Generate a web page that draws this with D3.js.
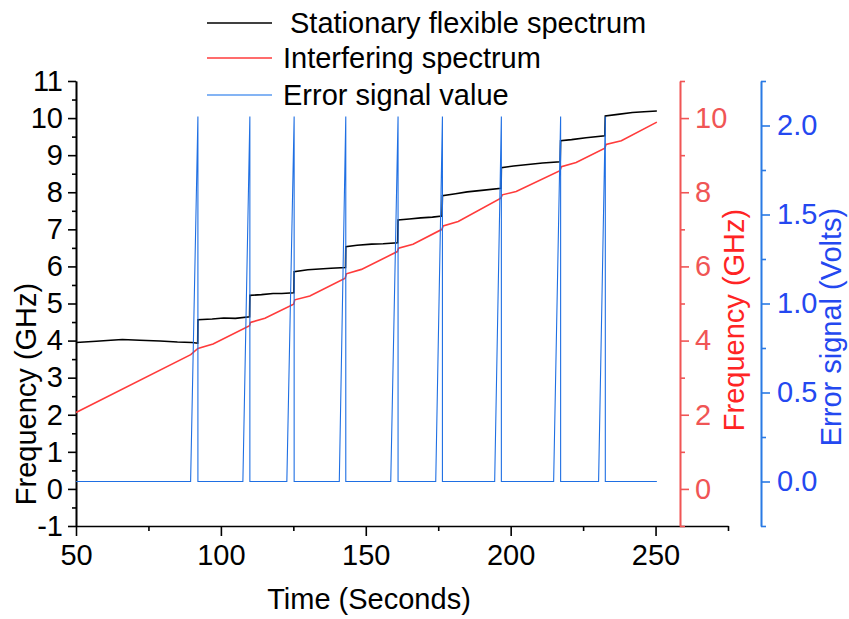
<!DOCTYPE html>
<html>
<head>
<meta charset="utf-8">
<script src="https://cdn.jsdelivr.net/npm/d3@7"></script>
<style>
  html, body { margin: 0; padding: 0; background: #fff; }
  svg { display: block; font-family: "Liberation Sans", Arial, sans-serif; }
</style>
</head>
<body>
<svg id="chart" width="849" height="619"></svg>
<script>
// Stationary flexible spectrum (left axis, GHz)
const timeFlex = [50, 57, 62, 66, 72, 79, 85, 90, 92.0,
  92.07, 97, 101, 105, 109.9,
  110.0, 114, 118, 121, 125.2,
  125.28, 130, 134, 138, 143.0,
  143.1, 147, 152, 156, 161.0,
  161.14, 165, 169, 173, 176.3,
  176.45, 181, 185, 190, 196.7,
  196.79, 201, 206, 211, 217.1,
  217.24, 221, 226, 232.5,
  232.66, 237, 242, 246, 250.45];
const freqFlex = [3.95, 3.98, 4.01, 4.03, 4.01, 3.99, 3.96, 3.95, 3.93,
  4.56, 4.58, 4.61, 4.60, 4.64,
  5.22, 5.24, 5.27, 5.27, 5.29,
  5.86, 5.91, 5.93, 5.95, 5.97,
  6.53, 6.57, 6.60, 6.61, 6.64,
  7.25, 7.28, 7.31, 7.33, 7.36,
  7.91, 7.96, 8.01, 8.05, 8.11,
  8.66, 8.71, 8.75, 8.79, 8.82,
  9.39, 9.42, 9.47, 9.52,
  10.06, 10.10, 10.15, 10.17, 10.19];

// Interfering spectrum (red axis, GHz)
const timeInterf = [50, 89.6, 92.07, 97.3, 109.9, 110.2, 115.2, 125.1, 125.5, 130.7,
  142.9, 143.3, 148.5, 160.9, 161.3, 166.3, 176.3, 176.7, 181.9, 196.6,
  197.1, 201.9, 217.0, 217.5, 222.6, 232.5, 232.9, 238.2, 250.45];
const freqInterf = [2.06, 3.62, 3.79, 3.91, 4.40, 4.49, 4.60, 4.98, 5.10, 5.20,
  5.68, 5.80, 5.92, 6.40, 6.49, 6.60, 7.00, 7.09, 7.21, 7.84,
  7.93, 8.02, 8.58, 8.69, 8.80, 9.19, 9.29, 9.39, 9.89];

// Error signal value (blue axis, Volts)
const timeErr = [50, 89.55, 92.07, 92.07, 107.59, 110.0, 110.0, 122.76, 125.28, 125.28,
  140.86, 143.10, 143.10, 158.62, 161.14, 161.14, 174.14, 176.45, 176.45,
  194.48, 196.79, 196.79, 214.83, 217.24, 217.24, 230.34, 232.66, 232.66, 250.45];
const voltErr = [0, 0, 2.05, 0, 0, 2.05, 0, 0, 2.05, 0,
  0, 2.05, 0, 0, 2.05, 0, 0, 2.05, 0,
  0, 2.05, 0, 0, 2.05, 0, 0, 2.05, 0, 0];

// Tick values
const timeTicks = [50, 100, 150, 200, 250];
const timeMinor = [75, 125, 175, 225, 275];
const freqTicks = [-1, 0, 1, 2, 3, 4, 5, 6, 7, 8, 9, 10, 11];
const freqMinor = [-0.5, 0.5, 1.5, 2.5, 3.5, 4.5, 5.5, 6.5, 7.5, 8.5, 9.5, 10.5];
const interfTicks = [0, 2, 4, 6, 8, 10];
const interfMinor = [-1, 1, 3, 5, 7, 9, 11];
const errTicks = [0, 0.5, 1.0, 1.5, 2.0];
const errMinor = [-0.25, 0.25, 0.75, 1.25, 1.75, 2.25];

const legendLabels = ["Stationary flexible spectrum", "Interfering spectrum", "Error signal value"];

const C = {
  black: "#000000",
  red: "#ff3b3b",
  redAxis: "#f05555",
  redTitle: "#ff2424",
  blue: "#1f6fe3",
  blueAxis: "#2a7ae4",
  blueText: "#2448f0",
  legendBlue: "#5b9bf0"
};
const FS = 29;

const svg = d3.select("#chart");

const x = d3.scaleLinear().domain([50, 275]).range([76, 728]);
const yL = d3.scaleLinear().domain([-1, 11]).range([526, 81]);
const yR = d3.scaleLinear().domain([-1, 11]).range([526, 81]);
const yB = d3.scaleLinear().domain([-0.25, 2.25]).range([526, 81]);

const fmtInt = d => (d < 0 ? "-" + Math.abs(d) : String(d));

function styleAxis(g, color, width) {
  g.selectAll("path.domain").attr("stroke", color).attr("stroke-width", width);
  g.selectAll(".tick line").attr("stroke", color).attr("stroke-width", width);
  g.selectAll(".tick text").attr("fill", color).attr("font-size", FS)
    .attr("font-family", '"Liberation Sans", Arial, sans-serif');
}

// Bottom axis
const gx = svg.append("g").attr("transform", "translate(0,526)");
gx.call(d3.axisBottom(x).tickValues(timeMinor).tickSize(5).tickSizeOuter(0).tickFormat(""));
gx.append("g").call(d3.axisBottom(x).tickValues(timeTicks).tickSize(10).tickSizeOuter(0).tickPadding(8).tickFormat(d3.format("d")));
styleAxis(gx, C.black, 1.6);
gx.selectAll("g > g path.domain").remove();

// Left axis
const gl = svg.append("g").attr("transform", "translate(76,0)");
gl.call(d3.axisLeft(yL).tickValues(freqMinor).tickSize(4).tickSizeOuter(0).tickFormat(""));
gl.append("g").call(d3.axisLeft(yL).tickValues(freqTicks).tickSize(8).tickSizeOuter(0).tickPadding(5).tickFormat(fmtInt));
styleAxis(gl, C.black, 1.6);

// Red right axis
const gr = svg.append("g").attr("transform", "translate(680,0)");
gr.call(d3.axisRight(yR).tickValues(interfMinor).tickSize(5).tickSizeOuter(0).tickFormat(""));
gr.append("g").call(d3.axisRight(yR).tickValues(interfTicks).tickSize(9).tickSizeOuter(0).tickPadding(6).tickFormat(fmtInt));
styleAxis(gr, C.redAxis, 1.6);

// Blue right axis
const gb = svg.append("g").attr("transform", "translate(761,0)");
gb.call(d3.axisRight(yB).tickValues(errMinor).tickSize(5).tickSizeOuter(0).tickFormat(""));
gb.append("g").call(d3.axisRight(yB).tickValues(errTicks).tickSize(9).tickSizeOuter(0).tickPadding(7).tickFormat(d3.format(".1f")));
styleAxis(gb, C.blueAxis, 1.6);
gb.selectAll(".tick text").attr("fill", C.blueText);

// Axis titles
svg.append("text").attr("transform", "translate(36,394) rotate(-90)")
  .attr("text-anchor", "middle").attr("font-size", FS).attr("fill", C.black)
  .text("Frequency (GHz)");
svg.append("text").attr("transform", "translate(744,320) rotate(-90)")
  .attr("text-anchor", "middle").attr("font-size", FS).attr("fill", C.redTitle)
  .text("Frequency (GHz)");
svg.append("text").attr("transform", "translate(841,327) rotate(-90)")
  .attr("text-anchor", "middle").attr("font-size", FS).attr("fill", C.blueText)
  .text("Error signal (Volts)");
svg.append("text").attr("x", 369).attr("y", 609)
  .attr("text-anchor", "middle").attr("font-size", FS).attr("fill", C.black)
  .text("Time (Seconds)");

// Series
const zip = (ts, vs) => ts.map((t, i) => [t, vs[i]]);

svg.append("path").datum(zip(timeFlex, freqFlex))
  .attr("fill", "none").attr("stroke", C.black).attr("stroke-width", 1.6)
  .attr("d", d3.line().x(d => x(d[0])).y(d => yL(d[1])));

svg.append("path").datum(zip(timeInterf, freqInterf))
  .attr("fill", "none").attr("stroke", C.red).attr("stroke-width", 1.6)
  .attr("d", d3.line().x(d => x(d[0])).y(d => yR(d[1])));

svg.append("path").datum(zip(timeErr, voltErr))
  .attr("fill", "none").attr("stroke", C.blue).attr("stroke-width", 1.1)
  .attr("d", d3.line().x(d => x(d[0])).y(d => yB(d[1])));

// Legend
const legendColors = [C.black, C.red, C.legendBlue];
const legendY = [23, 58, 95];
const legendX = [290, 283, 283];
const lg = svg.append("g");
legendLabels.forEach((lab, i) => {
  lg.append("line").attr("x1", 207).attr("x2", 272)
    .attr("y1", legendY[i]).attr("y2", legendY[i])
    .attr("stroke", legendColors[i]).attr("stroke-width", 1.6);
  lg.append("text").attr("x", legendX[i]).attr("y", legendY[i] + 10)
    .attr("font-size", FS).attr("fill", C.black)
    .text(lab);
});
</script>
</body>
</html>
